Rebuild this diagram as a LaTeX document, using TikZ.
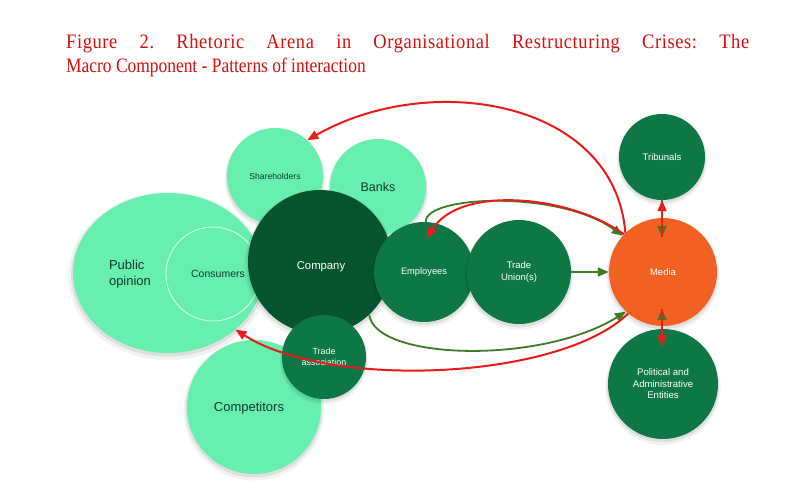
\documentclass[tikz,border=0pt]{standalone}
\usepackage{fontspec}
\setmainfont{Liberation Sans}
\newfontfamily\titlefont[FakeStretch=0.85]{Liberation Serif}
\newfontfamily\titlefontwide[FakeStretch=0.9,LetterSpace=3]{Liberation Serif}
\usetikzlibrary{arrows.meta,shapes.geometric,shadows}
\definecolor{mint}{HTML}{66EFAD}
\definecolor{darkco}{HTML}{07552E}
\definecolor{midgr}{HTML}{0D7843}
\definecolor{mediaor}{HTML}{F26122}
\definecolor{arrred}{HTML}{EE1A1A}
\definecolor{arrgr}{HTML}{3B7D23}
\definecolor{titlered}{HTML}{D90F0F}
\definecolor{darktext}{HTML}{17382A}
\frenchspacing
\tikzset{
  shadowed/.style={
    general shadow={shadow scale=1.05, shadow yshift=-3pt, fill=black, opacity=.05},
    general shadow={shadow scale=1.02, shadow yshift=-2pt, fill=black, opacity=.08}},
  bub/.style={circle, inner sep=0pt, align=center, shadowed},
  light/.style={bub, fill=mint, text=darktext},
  dark/.style={bub, fill=midgr, text=white},
  lbl/.style={inner sep=0pt, align=center},
  titlestyle/.style={inner sep=0pt, text=titlered, font=\titlefont\fontsize{20.5}{24}\selectfont},
  redarr/.style={draw=arrred, line width=2pt, -{Triangle[length=11pt,width=9pt]}},
  grnarr/.style={draw=arrgr, line width=1.8pt, -{Triangle[length=11pt,width=9pt]}},
}
\begin{document}
\begin{tikzpicture}[x=1pt,y=-1pt]
\fill[white] (0,0) rectangle (801,496);
\useasboundingbox (0,0) rectangle (801,496);

% title
\node[titlestyle, font=\titlefontwide\fontsize{20.5}{24}\selectfont, anchor=base west] (t1) at (66,48)
  {\makebox[683pt][s]{Figure 2. Rhetoric Arena in Organisational Restructuring Crises: The}};
\node[titlestyle, anchor=base west] (t2) at (66,72)
  {Macro Component - Patterns of interaction};

% light bubbles
\node[ellipse, fill=mint, minimum width=190pt, minimum height=160pt, inner sep=0pt, shadowed] (po) at (168,273) {};
\node[lbl, text=darktext, align=left, font=\fontsize{13}{16}\selectfont] (poT) at (130,274) {Public\\opinion};
\node[circle, inner sep=0pt, draw=white!80!mint, line width=0.8pt, minimum size=94pt] (cons) at (213,274) {};
\node[lbl, text=darktext, font=\fontsize{10.5}{12}\selectfont] (consT) at (218,274) {Consumers};
\node[light, minimum size=96pt, font=\fontsize{8.6}{10}\selectfont] (sh) at (275,176) {Shareholders};
\node[light, minimum size=96pt, font=\fontsize{12.5}{14}\selectfont] (banks) at (378,187) {Banks};
\node[light, minimum size=134pt] (comp0) at (254,407) {};
\node[lbl, text=darktext, font=\fontsize{13}{15}\selectfont] (compT) at (249,408) {Competitors};

% dark bubbles
\node[bub, fill=darkco, minimum size=144pt] (comp) at (320,262) {};
\node[lbl, text=white, font=\fontsize{11.3}{13}\selectfont] (compnyT) at (321,267) {Company};
\node[dark, minimum size=100pt, font=\fontsize{9.3}{11}\selectfont] (emp) at (424,272) {Employees};
\node[dark, minimum size=104pt, font=\fontsize{9.5}{11.5}\selectfont] (tu) at (519,272) {Trade\\Union(s)};
\node[dark, minimum size=84pt, font=\fontsize{8.9}{11}\selectfont] (ta) at (324,357) {Trade\\association};
\node[bub, fill=mediaor, text=white, minimum size=108pt, font=\fontsize{9.5}{11}\selectfont] (media) at (663,272) {Media};
\node[dark, minimum size=86pt, font=\fontsize{9.5}{11}\selectfont] (trib) at (662,157) {Tribunals};
\node[dark, minimum size=110pt, font=\fontsize{9.6}{11.5}\selectfont] (pol) at (663,384) {Political and\\Administrative\\Entities};

% helper coordinates
\coordinate (empin) at (427,238);
\coordinate (mtop) at (662,237);
\coordinate (mbot) at (662,309);
\coordinate (polin) at (662,346);

% connectors
\draw[redarr] (media.134) .. controls (615,100) and (430,70) .. (sh.48);
\draw[grnarr] (emp.88) .. controls (425,195) and (560,190) .. (media.138);
\draw[redarr] (media.136) .. controls (570,195) and (460,185) .. (empin);
\draw[grnarr] (tu.east) -- (media.west);
\draw[grnarr] (comp.-47) .. controls (375,360) and (540,365) .. (media.-133);
\draw[redarr] (media.-130) .. controls (560,380) and (330,390) .. (po.-40);
\draw[grnarr] (trib.south) -- (mtop);
\draw[redarr] (mtop) -- (trib.south);
\draw[grnarr] (polin) -- (mbot);
\draw[redarr] (mbot) -- (polin);
\end{tikzpicture}
\end{document}
